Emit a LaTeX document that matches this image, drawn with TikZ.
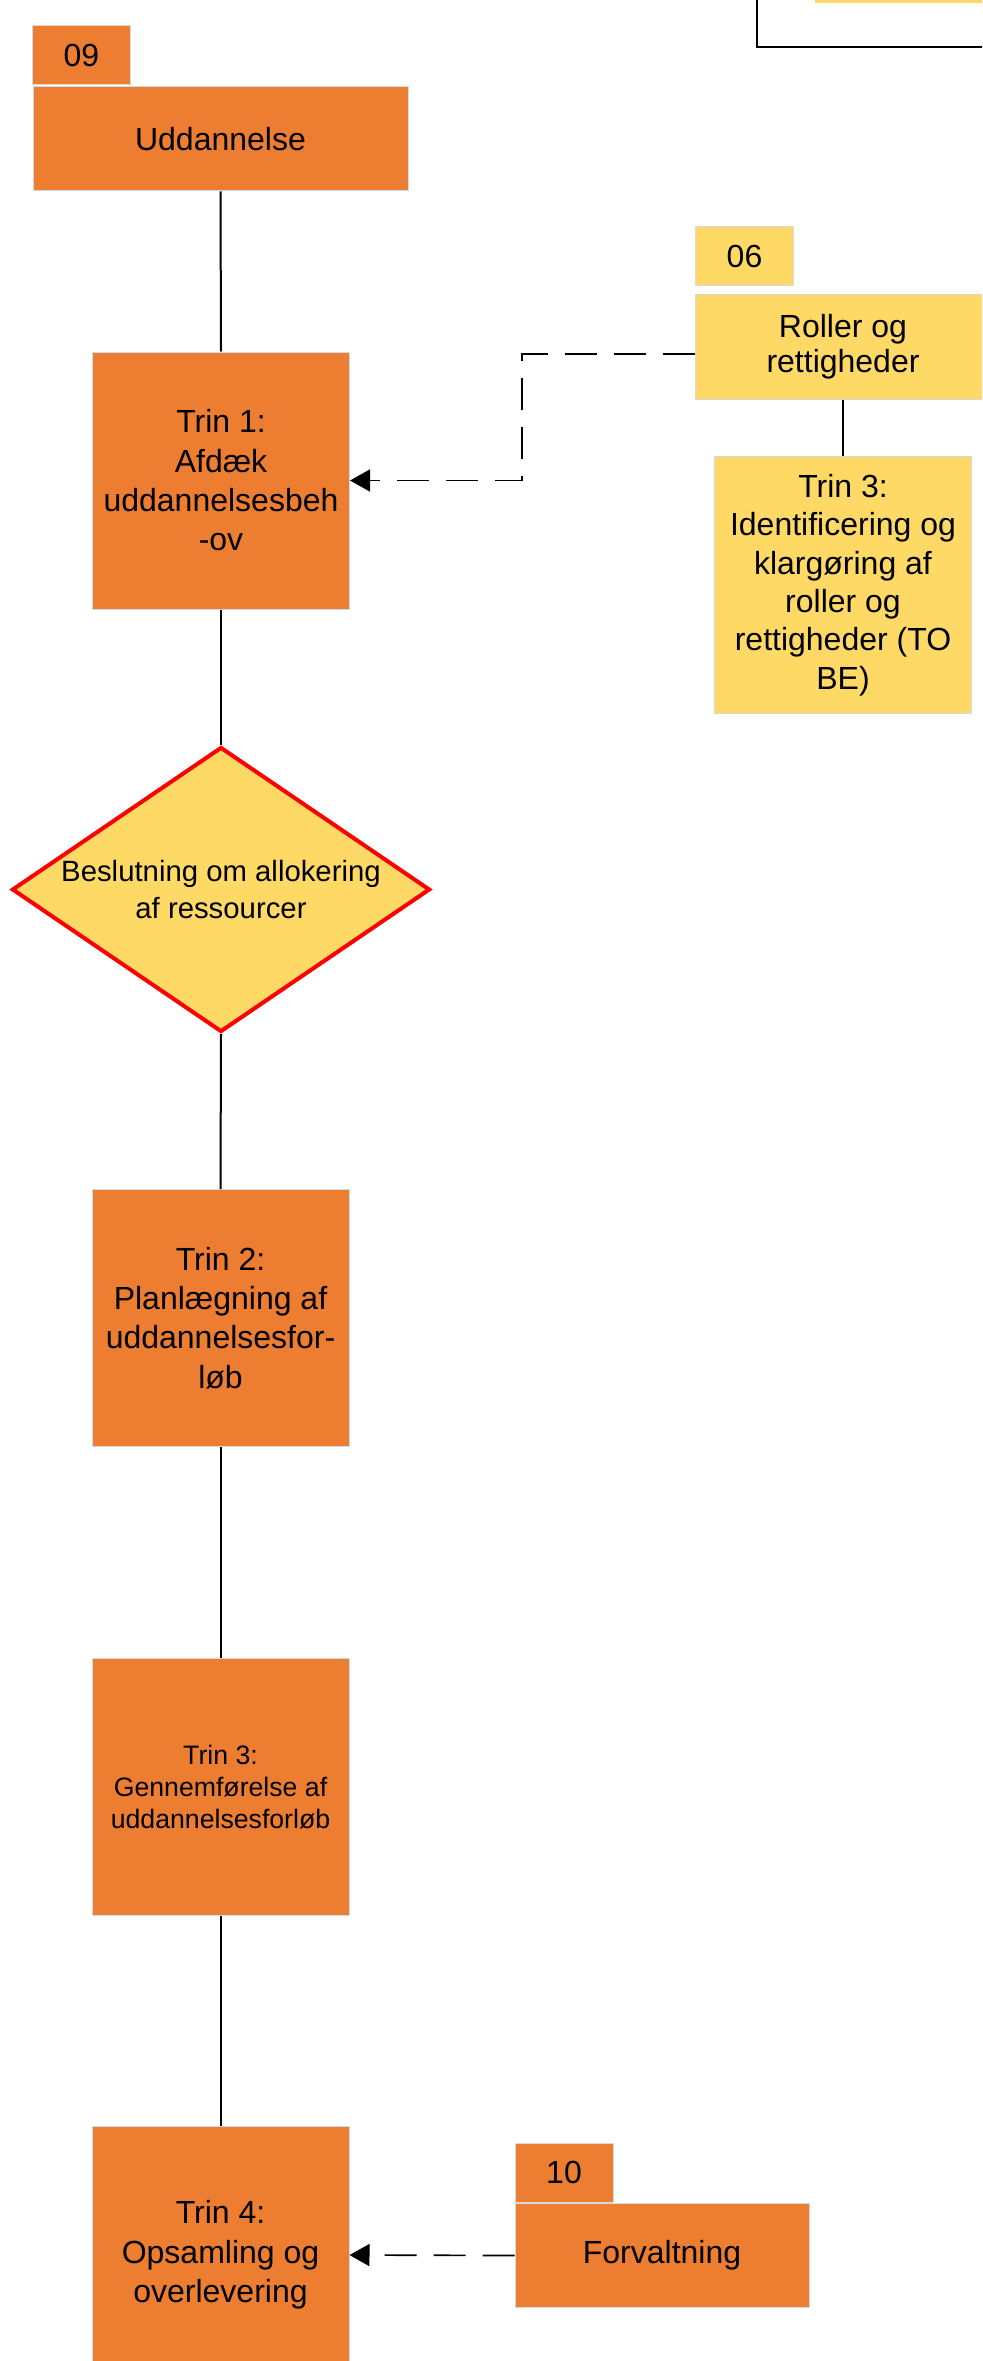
\documentclass[tikz,border=0pt]{standalone}
\usepackage{fontspec}
\setmainfont{Liberation Sans}
\usetikzlibrary{shapes.geometric,arrows.meta}

\definecolor{trinorange}{HTML}{ED7D31}
\definecolor{trinyellow}{HTML}{FFD966}
\definecolor{boxedge}{HTML}{D5D9E2}

\begin{document}
\begin{tikzpicture}[x=0.75pt,y=-0.75pt,
        box/.style={draw=boxedge,line width=0.75pt,align=center,inner sep=0pt,font=\fontsize{24}{29.5}\selectfont},
        orangebox/.style={box,fill=trinorange},
        yellowbox/.style={box,fill=trinyellow},
        trinbox/.style={minimum width=192.75pt,minimum height=192.75pt},
        tagbox/.style={minimum width=73.5pt,minimum height=44.25pt},
        topbox/.style={minimum height=78pt},
        decision/.style={diamond,draw=red,line width=3pt,fill=trinyellow,minimum width=313.5pt,minimum height=213.75pt,inner sep=0pt,aspect=1.47},
        flow/.style={line width=1.5pt},
        feed/.style={line width=1.25pt,dash pattern=on 24pt off 12.75pt,-{Triangle[length=15pt,width=16.5pt]}}]
        \useasboundingbox(0,0)rectangle(982,2361);
        \clip(0,0)rectangle(982,2361);

        \fill[trinyellow](815,-60)rectangle(1040,3);
        \draw[line width=1.5pt](757,-60)--(757,47)--(1040,47);

        \node[orangebox,tagbox](tag09)at(81.5,55.5){09};
        \node[orangebox,topbox,minimum width=281.25pt](udd)at(220.5,139){Uddannelse};
        \node[orangebox,trinbox](trin1)at(221,480.5){Trin 1:\\Afdæk\\uddannelsesbeh\\-ov};
        \node[decision,label={[align=center,font=\fontsize{22}{27.75}\selectfont]center:{Beslutning om allokering\\af ressourcer}}](dec)at(221,889.5){};
        \node[orangebox,trinbox](trin2)at(220.5,1318){Trin 2:\\Planlægning af\\uddannelsesfor-\\løb};
        \node[orangebox,trinbox,font=\fontsize{20}{24}\selectfont](trin3)at(220.5,1787){Trin 3:\\Gennemførelse af\\uddannelsesforløb};
        \node[orangebox,trinbox](trin4)at(220.5,2255){Trin 4:\\Opsamling og\\overlevering};

        \node[yellowbox,tagbox](tag06)at(744.5,256.5){06};
        \node[yellowbox,topbox,minimum width=222pt,font=\fontsize{24}{26.5}\selectfont](roller)at(843,347){Roller og\\rettigheder};
        \node[yellowbox,trinbox,font=\fontsize{24}{28.8}\selectfont](trin3y)at(843,585){Trin 3:\\Identificering og\\klargøring af\\roller og\\rettigheder (TO\\BE)};

        \node[orangebox,tagbox](tag10)at(564,2172.5){10};
        \node[orangebox,topbox,minimum width=220.5pt](forv)at(662,2255.5){Forvaltning};

        \draw[flow](udd.south)--(trin1.north);
        \draw[flow](trin1.south)--(dec.north);
        \draw[flow](dec.south)--(trin2.north);
        \draw[flow](trin2.south)--(trin3.north);
        \draw[flow](trin3.south)--(trin4.north);
        \draw[flow](roller.south)--(trin3y.north);

        \coordinate(knee)at(522,354);
        \draw[feed]([yshift=-5.25pt]roller.west)--(knee)|-(trin1.east);
        \draw[feed](forv.west)--(trin4.east);
    \end{tikzpicture}
\end{document}
